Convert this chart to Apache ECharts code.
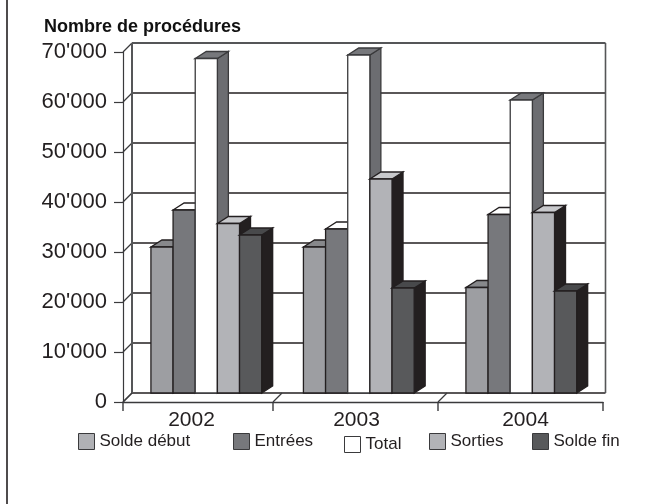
<!DOCTYPE html>
<html>
<head>
<meta charset="utf-8">
<style>html,body{margin:0;padding:0;background:#fff}#c{width:645px;height:504px}</style>
<script src="https://cdn.jsdelivr.net/npm/echarts@6/dist/echarts.min.js"></script>
</head>
<body>
<div id="c"></div>
<script>
const years = ['2002', '2003', '2004'];
const soldeDebut = [31000, 31000, 22900];
const entrees = [38400, 34600, 37500];
const total = [68700, 69400, 60400];
const sorties = [35700, 44600, 37900];
const soldeFin = [33400, 22800, 22200];
const yTicks = [0, 10000, 20000, 30000, 40000, 50000, 60000, 70000];

const INK = '#231f20';
const DEPTH_X = 9, DEPTH_Y = 9;      // wall offset
const BAR_W = 22.15, BAR_DX = 11, BAR_DY = 7;
const GROUP_NUDGE = [3.3, -4.2, -1.7];
const EDGE_NUDGE = [0, -10, -5, 0];

const metrics = [
  { name: 'Solde début', values: soldeDebut, front: '#9d9ea2', top: '#87888b', side: '#6c6d71', legend: '#b0b1b5', stroke: INK, lx: 78,  ly: 433 },
  { name: 'Entrées',     values: entrees,    front: '#77787c', top: '#ffffff', side: '#58595b', legend: '#77787c', stroke: INK, lx: 233, ly: 433 },
  { name: 'Total',       values: total,      front: '#ffffff', top: '#77787c', side: '#6c6d71', legend: '#ffffff', stroke: '#3a3a3c', lx: 344, ly: 436 },
  { name: 'Sorties',     values: sorties,    front: '#b2b3b7', top: '#c8c9cc', side: INK,       legend: '#b2b3b7', stroke: INK, lx: 429, ly: 433 },
  { name: 'Solde fin',   values: soldeFin,   front: '#58595b', top: '#48494b', side: INK,       legend: '#58595b', stroke: INK, lx: 532, ly: 433 }
];

function line(x1, y1, x2, y2, color, w) {
  return { type: 'line', shape: { x1, y1, x2, y2 }, style: { stroke: color, lineWidth: w, fill: null }, silent: true };
}

function renderFrame(params, api) {
  const children = [];
  const y0 = api.coord([0, 0])[1];
  const yTop = api.coord([0, yTicks[yTicks.length - 1]])[1];
  const band = api.size([1, 0])[0];
  const firstCenter = api.coord([0, 0])[0];
  const xL = firstCenter - band / 2;
  const xR = xL + band * years.length;
  const backR = xR + 2.5;

  yTicks.forEach(function (t) {
    const y = api.coord([0, t])[1];
    children.push(line(xL, y, xL + DEPTH_X, y - DEPTH_Y, '#3a3a3c', 1.2));
    const isEdge = t === yTicks[yTicks.length - 1];
    children.push(line(xL + DEPTH_X, y - DEPTH_Y, backR, y - DEPTH_Y, isEdge ? '#555658' : INK, isEdge ? 2 : 1.4));
  });
  children.push(line(xL + DEPTH_X, yTop - DEPTH_Y, xL + DEPTH_X, y0 - DEPTH_Y, '#555658', 2));
  children.push(line(backR, yTop - DEPTH_Y, backR, y0 - DEPTH_Y, '#555658', 1.6));

  EDGE_NUDGE.forEach(function (n, i) {
    const x = xL + band * i + n;
    children.push(line(x, y0, x, y0 + 9, '#3a3a3c', 1.4));
    if (i < EDGE_NUDGE.length - 1) {
      children.push(line(x, y0, x + DEPTH_X, y0 - DEPTH_Y, '#3a3a3c', 1.2));
    }
  });
  return { type: 'group', children };
}

function makeBarRenderer(m, index) {
  return function (params, api) {
    const cat = api.value(0);
    const center = api.coord([cat, 0])[0];
    const left = center - BAR_W * metrics.length / 2 + GROUP_NUDGE[cat] + index * BAR_W;
    const right = left + BAR_W;
    const top = api.coord([cat, api.value(1)])[1];
    const base = api.coord([cat, 0])[1] - DEPTH_Y;
    const stroke = { stroke: m.stroke, lineWidth: 1.3, lineJoin: 'miter' };
    return {
      type: 'group',
      children: [
        { type: 'polygon', shape: { points: [[right, top], [right + BAR_DX, top - BAR_DY], [right + BAR_DX, base - BAR_DY], [right, base]] },
          style: Object.assign({ fill: m.side }, stroke) },
        { type: 'polygon', shape: { points: [[left, top], [left + BAR_DX, top - BAR_DY], [right + BAR_DX, top - BAR_DY], [right, top]] },
          style: Object.assign({ fill: m.top }, stroke) },
        { type: 'rect', shape: { x: left, y: top, width: BAR_W, height: base - top },
          style: Object.assign({ fill: m.front }, stroke) }
      ]
    };
  };
}

const chart = echarts.init(document.getElementById('c'), null, { renderer: 'canvas' });

const FONT = '"Liberation Sans", Arial, sans-serif';
const yearRich = {
  y0: { fontSize: 21, fontFamily: FONT, color: INK, padding: [0, 23, 0, 0] },
  y1: { fontSize: 21, fontFamily: FONT, color: INK, padding: [0, 13, 0, 0] },
  y2: { fontSize: 21, fontFamily: FONT, color: INK, padding: [0, 0, 0, 5] }
};

chart.setOption({
  animation: false,
  backgroundColor: '#ffffff',
  title: {
    text: 'Nombre de procédures',
    left: 39, top: 13,
    textStyle: { fontFamily: FONT, fontSize: 18, fontWeight: 'bold', color: '#111' }
  },
  graphic: [{
    type: 'line', silent: true,
    shape: { x1: 7, y1: 0, x2: 7, y2: 504 },
    style: { stroke: INK, lineWidth: 1.6 }
  }],
  grid: { left: 123, right: 42, top: 52, bottom: 102, containLabel: false },
  xAxis: {
    type: 'category',
    data: years,
    axisLine: { show: true, lineStyle: { color: '#3a3a3c', width: 1.4 } },
    axisTick: { show: false },
    axisLabel: {
      margin: 8,
      formatter: function (v, i) { return '{y' + i + '|' + v + '}'; },
      rich: yearRich
    },
    splitLine: { show: false }
  },
  yAxis: {
    type: 'value',
    min: 0, max: 70000, interval: 10000,
    axisLine: { show: true, lineStyle: { color: '#3a3a3c', width: 1.2 } },
    axisTick: { show: true, length: 9, lineStyle: { color: '#3a3a3c', width: 1.2 } },
    axisLabel: {
      margin: 16,
      fontFamily: FONT, fontSize: 22, color: INK,
      formatter: function (v) { return v === 0 ? '0' : (v / 1000) + "'000"; }
    },
    splitLine: { show: false }
  },
  legend: metrics.map(function (m) {
    return {
      left: m.lx, top: m.ly,
      padding: 0,
      itemWidth: 16, itemHeight: 16,
      selectedMode: false,
      data: [{ name: m.name, icon: 'rect', itemStyle: { color: m.legend, borderColor: '#3a3a3c', borderWidth: 1 } }],
      textStyle: { fontFamily: FONT, fontSize: 17, color: INK }
    };
  }),
  series: [{
    type: 'custom',
    name: 'frame',
    silent: true,
    clip: false,
    z: 1,
    renderItem: renderFrame,
    data: [[0, 0]],
    encode: { x: 0, y: 1 }
  }].concat(metrics.map(function (m, i) {
    return {
      type: 'custom',
      name: m.name,
      clip: false,
      z: 2 + i,
      itemStyle: { color: m.legend },
      renderItem: makeBarRenderer(m, i),
      encode: { x: 0, y: 1 },
      data: m.values.map(function (v, c) { return [c, v]; })
    };
  }))
});
</script>
</body>
</html>
